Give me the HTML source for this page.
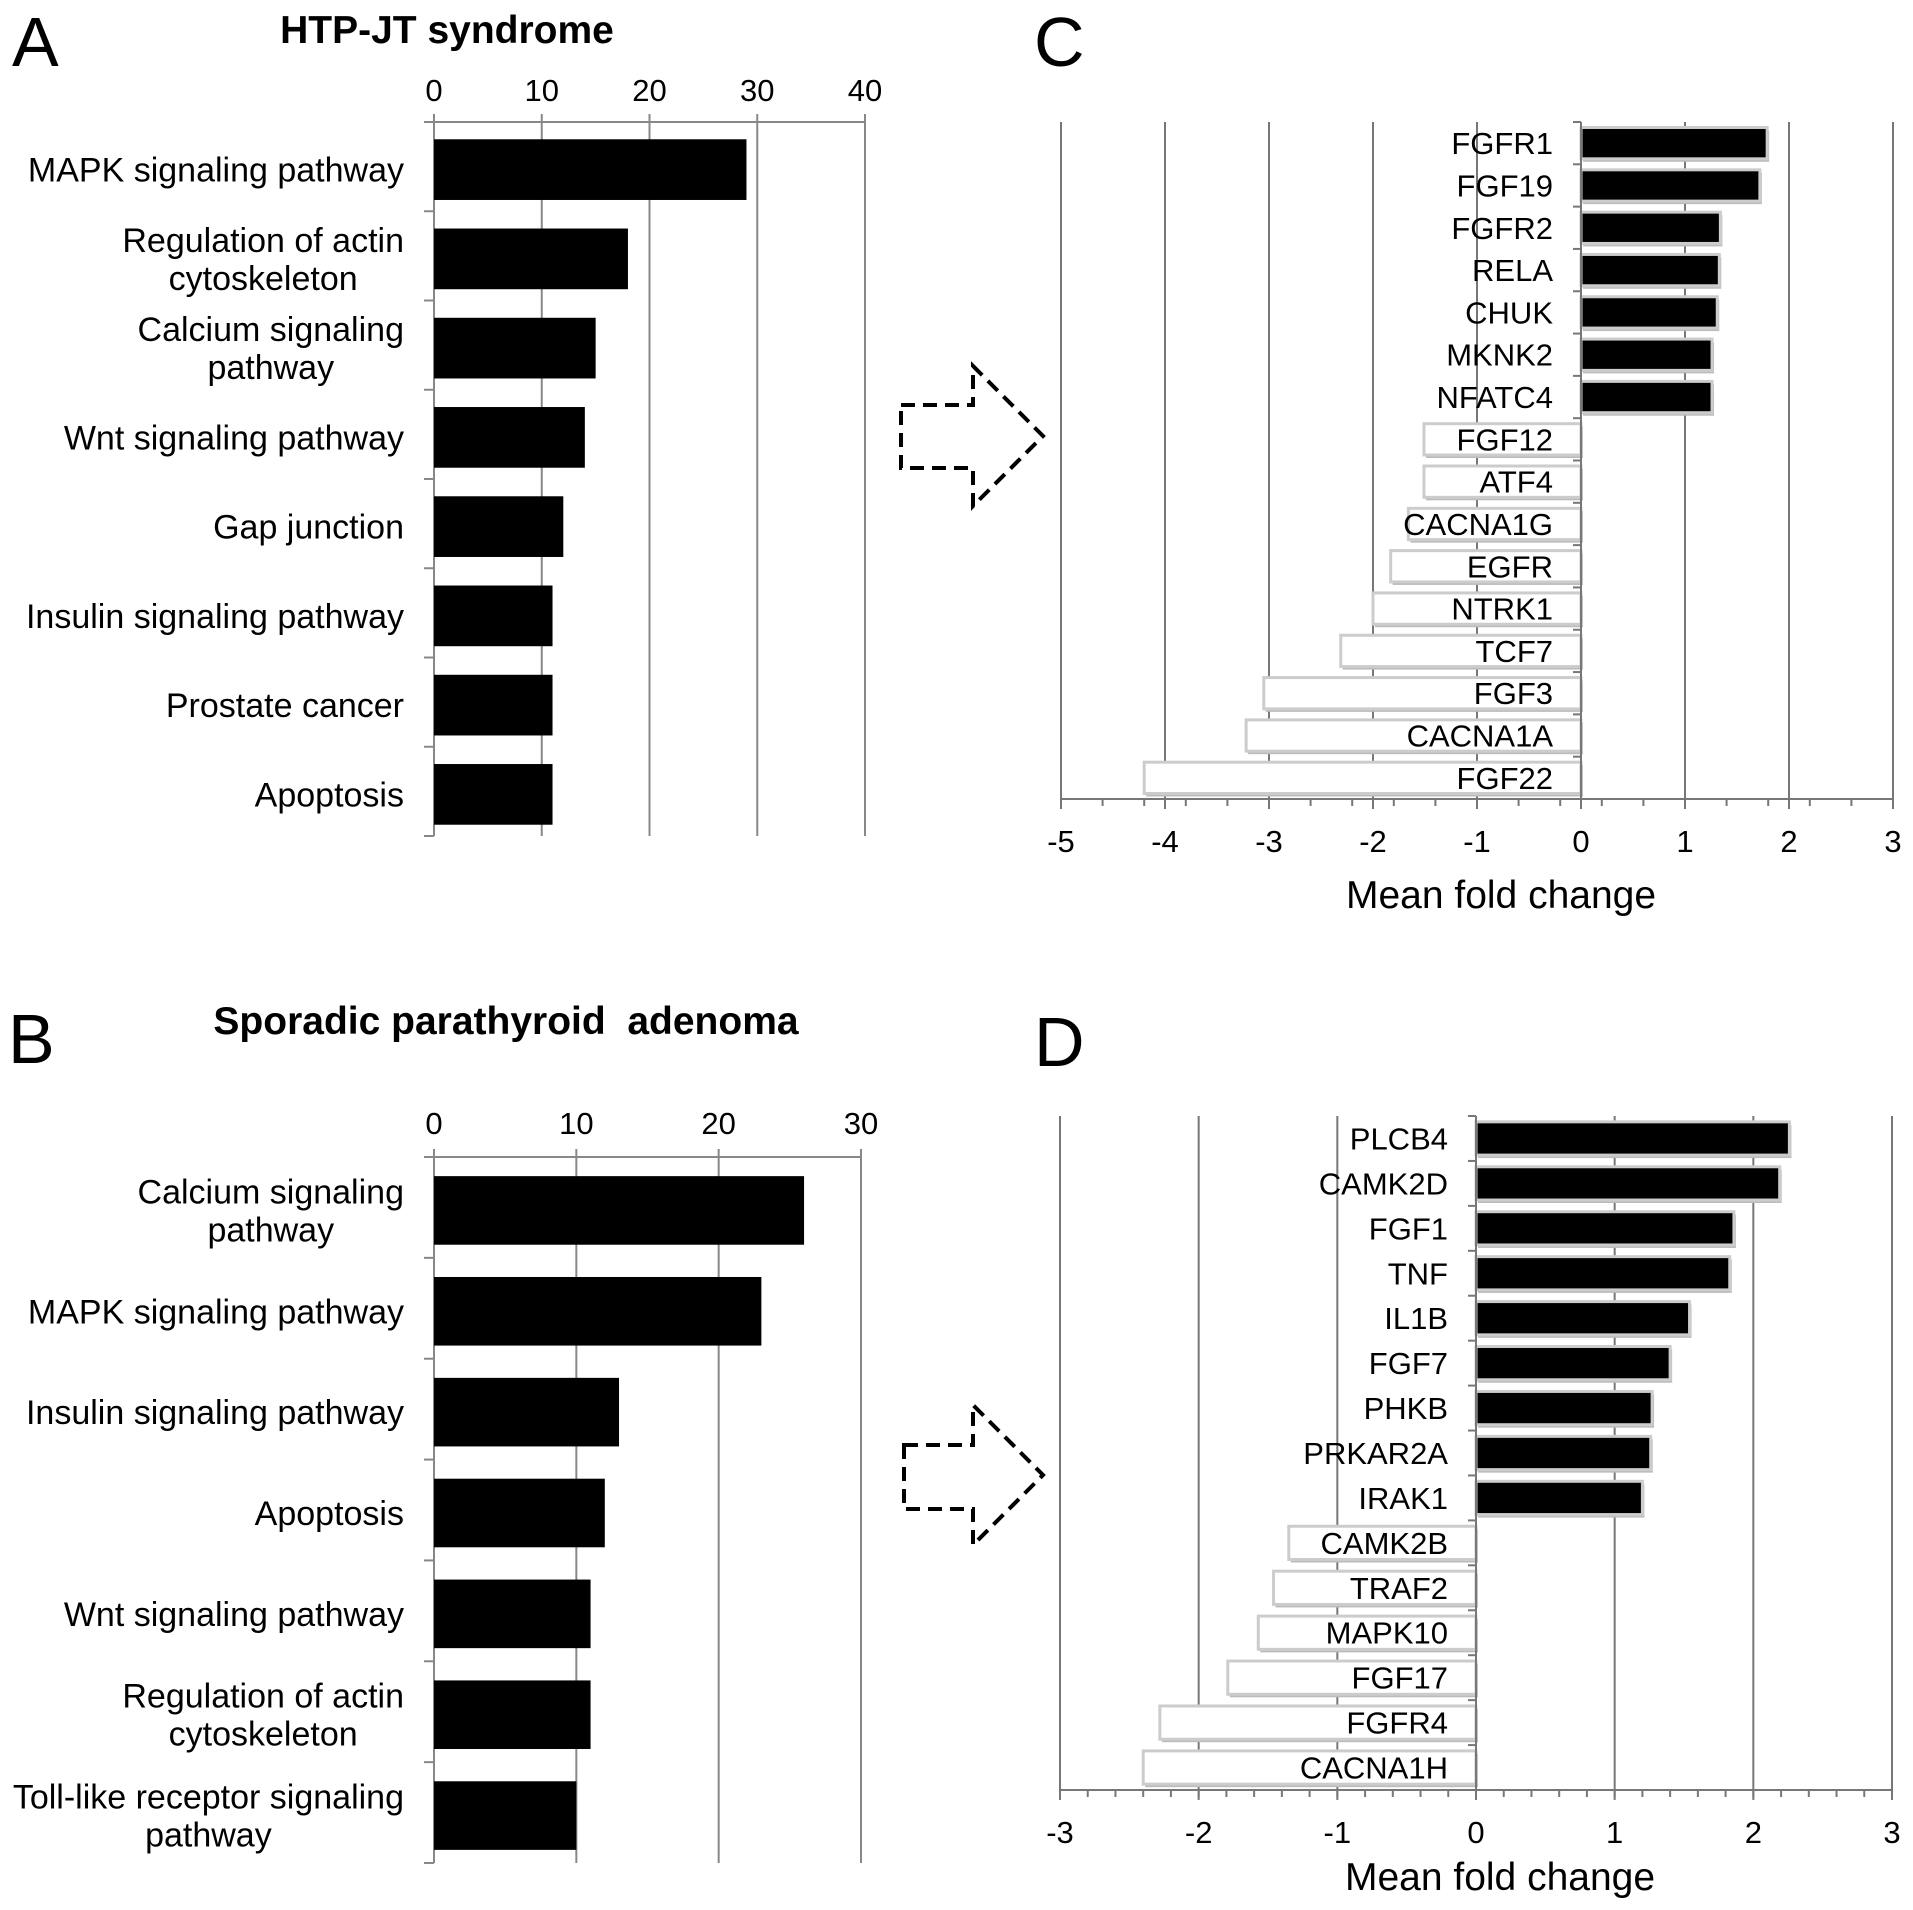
<!DOCTYPE html>
<html><head><meta charset="utf-8"><style>
body{margin:0;background:#fff}
svg{display:block}
text{font-family:"Liberation Sans",Arial,sans-serif;fill:#000}
</style></head><body>
<svg id="fig" width="1913" height="1910" viewBox="0 0 1913 1910" xmlns="http://www.w3.org/2000/svg">
<text x="12" y="66" font-size="70">A</text>
<text x="8" y="1063" font-size="70">B</text>
<text x="1034" y="66" font-size="70">C</text>
<text x="1034" y="1066" font-size="70">D</text>
<text x="447" y="43" font-size="39" font-weight="bold" text-anchor="middle">HTP-JT syndrome</text>
<text x="506" y="1034" font-size="39" font-weight="bold" text-anchor="middle" xml:space="preserve">Sporadic parathyroid  adenoma</text>
<path d="M901 405 H973 V366 L1043 436 L973 506 V468 H901 Z" fill="none" stroke="#000" stroke-width="4" stroke-dasharray="14 8"/>
<path d="M904 1445 H973 V1405 L1043 1475 L973 1545 V1509 H904 Z" fill="none" stroke="#000" stroke-width="4" stroke-dasharray="14 8"/>
<g id="g"></g>
</svg>
<script>
const aCats=[["MAPK signaling pathway"],["Regulation of actin","cytoskeleton"],["Calcium signaling","pathway"],["Wnt signaling pathway"],["Gap junction"],["Insulin signaling pathway"],["Prostate cancer"],["Apoptosis"]];
const aVals=[29,18,15,14,12,11,11,11];
const aTicks=[0,10,20,30,40];
const bCats=[["Calcium signaling","pathway"],["MAPK signaling pathway"],["Insulin signaling pathway"],["Apoptosis"],["Wnt signaling pathway"],["Regulation of actin","cytoskeleton"],["Toll-like receptor signaling","pathway"]];
const bVals=[26,23,13,12,11,11,10];
const bTicks=[0,10,20,30];
const cGenes=["FGFR1","FGF19","FGFR2","RELA","CHUK","MKNK2","NFATC4","FGF12","ATF4","CACNA1G","EGFR","NTRK1","TCF7","FGF3","CACNA1A","FGF22"];
const cVals=[1.79,1.72,1.34,1.33,1.31,1.26,1.26,-1.51,-1.51,-1.66,-1.83,-2.0,-2.31,-3.05,-3.22,-4.2];
const cTicks=[-5,-4,-3,-2,-1,0,1,2,3];
const dGenes=["PLCB4","CAMK2D","FGF1","TNF","IL1B","FGF7","PHKB","PRKAR2A","IRAK1","CAMK2B","TRAF2","MAPK10","FGF17","FGFR4","CACNA1H"];
const dVals=[2.26,2.19,1.86,1.83,1.54,1.40,1.27,1.26,1.20,-1.35,-1.46,-1.57,-1.79,-2.28,-2.40];
const dTicks=[-3,-2,-1,0,1,2,3];

const NS="http://www.w3.org/2000/svg";
const G=document.getElementById('g');
function mk(tag,at,txt){const e=document.createElementNS(NS,tag);for(const k in at)e.setAttribute(k,at[k]);if(txt!=null)e.textContent=txt;G.appendChild(e);return e;}

function pathwayChart(p,cats,vals,ticks,x0,x1,y0,y1,tickY){
  const max=ticks[ticks.length-1];
  const sx=v=>x0+(x1-x0)*v/max;
  const band=(y1-y0)/cats.length;
  ticks.forEach(t=>{
    if(t>0){const l=mk('line',{x1:sx(t),x2:sx(t),y1:y0,y2:y1,stroke:'#888','stroke-width':2});
    
    }
    const tx=mk('text',{x:sx(t),y:tickY,'font-size':31,'text-anchor':'middle'},t);
    
    
    const tk=mk('line',{x1:sx(t),x2:sx(t),y1:y0-8,y2:y0,stroke:'#888','stroke-width':2});
    
    
  });
  const ax=mk('line',{x1:x0,x2:x1,y1:y0,y2:y0,stroke:'#888','stroke-width':2});
  
  
  const ay=mk('line',{x1:x0,x2:x0,y1:y0,y2:y1,stroke:'#888','stroke-width':2});
  
  
  for(let i=0;i<=cats.length;i++){
    const t=mk('line',{x1:x0-10,x2:x0,y1:y0+band*i,y2:y0+band*i,stroke:'#888','stroke-width':2});
    
    
  }
  cats.forEach((c,i)=>{
    const cy=y0+band*(i+0.5)+3, h=band*0.68;
    const r=mk('rect',{x:x0,y:cy-h/2,width:sx(vals[i])-x0,height:h,fill:'#000'});
    
    
    const els=c.map((ln,j)=>{
      const ty=cy+12+(j-(c.length-1)/2)*38;
      const tx=mk('text',{x:404,y:ty,'font-size':34,'text-anchor':'middle'},ln);
      
      
      return tx;
    });
    let wmax=0;els.forEach(e=>{wmax=Math.max(wmax,e.getComputedTextLength());});
    els.forEach(e=>e.setAttribute('x',404-wmax/2));
  });
}

function foldChart(p,genes,vals,ticks,x0,x1,y0,y1,minor,titleDy){
  const lo=ticks[0],hi=ticks[ticks.length-1];
  const sx=v=>x0+(x1-x0)*(v-lo)/(hi-lo);
  const band=(y1-y0)/genes.length;
  ticks.forEach(t=>{
    if(t!==0){const l=mk('line',{x1:sx(t),x2:sx(t),y1:y0,y2:y1,stroke:'#777','stroke-width':2});
    
    }
    const tx=mk('text',{x:sx(t),y:y1+53,'font-size':31,'text-anchor':'middle'},t);
    
    
    const tk=mk('line',{x1:sx(t),x2:sx(t),y1:y1,y2:y1+10,stroke:'#777','stroke-width':2});
    
    
  });
  for(let v=lo;v<=hi+1e-6;v+=minor){
    const tk=mk('line',{x1:sx(v),x2:sx(v),y1:y1,y2:y1+7,stroke:'#777','stroke-width':2});
    
    
  }
  const ax=mk('line',{x1:x0,x2:x1,y1:y1,y2:y1,stroke:'#777','stroke-width':2});
  
  
  const z=sx(0);
  genes.forEach((g,i)=>{
    const cy=y0+band*(i+0.5),h=band*0.74;
    const a=Math.min(z,sx(vals[i])),w=Math.abs(sx(vals[i])-z);
    const s=mk('rect',{x:a+2,y:cy-h/2+3,width:w,height:h,fill:'#bbb'});
    
    
    const r=mk('rect',{x:a,y:cy-h/2,width:w,height:h,fill:vals[i]>0?'#000':'#fff',stroke:'#ccc','stroke-width':3});
    
    
    const tx=mk('text',{x:z-28,y:cy+11,'font-size':31,'text-anchor':'end'},g);
    
    
  });
  const ay=mk('line',{x1:z,x2:z,y1:y0,y2:y1,stroke:'#777','stroke-width':2});
  
  
  for(let i=0;i<=genes.length;i++){
    const t=mk('line',{x1:z-8,x2:z,y1:y0+band*i,y2:y0+band*i,stroke:'#777','stroke-width':2});
    
    
  }
  const tt=mk('text',{x:(x0+x1)/2+24,y:y1+titleDy,'font-size':39,'text-anchor':'middle'},'Mean fold change');
  
  
}

pathwayChart('panel-a',aCats,aVals,aTicks,434,865,122,836,101);
pathwayChart('panel-b',bCats,bVals,bTicks,434,861,1157,1863,1134);
foldChart('panel-c',cGenes,cVals,cTicks,1061,1893,122,799,0.4,109);
foldChart('panel-d',dGenes,dVals,dTicks,1060,1892,1116,1790,0.2,100);
</script>
</body></html>
